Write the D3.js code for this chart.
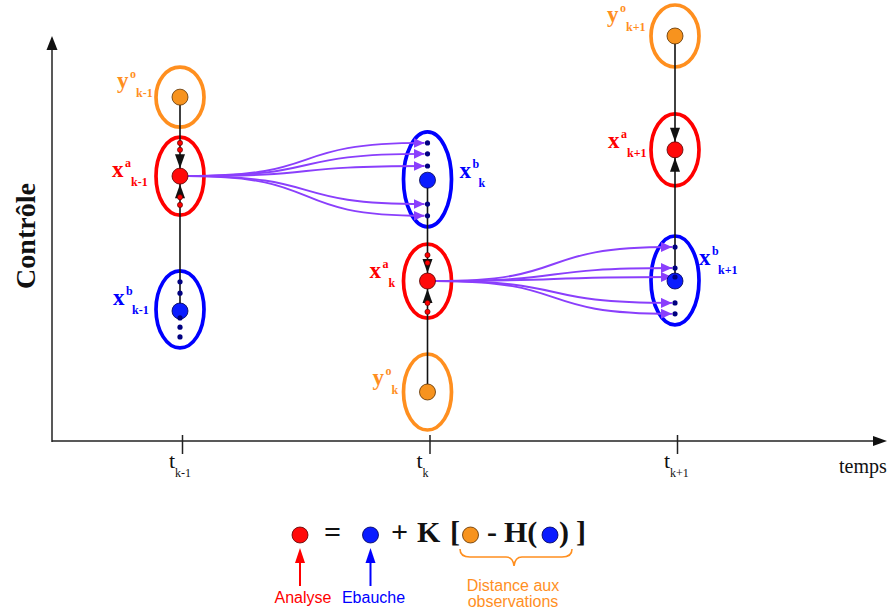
<!DOCTYPE html>
<html>
<head>
<meta charset="utf-8">
<script src="https://cdn.jsdelivr.net/npm/d3@7"></script>
<style>
  html, body { margin: 0; padding: 0; background: #fff; }
  svg { display: block; }
</style>
</head>
<body>
<svg id="chart" width="896" height="614"></svg>
<script>
// ---------------- DATA ----------------
const times = [0, 1, 2];
const tickLabels = ["k-1", "k", "k+1"];
const obsValues = [8.49, 1.21, 10.0];          // y^o
const analysisValues = [6.54, 3.95, 7.19];     // x^a
const backgroundValues = [3.21, 6.44, 3.95];   // x^b
const backgroundMembers = [
  [3.93, 3.65, 3.04, 2.81, 2.57],
  [7.36, 7.09, 6.79, 5.85, 5.56],
  [4.79, 4.27, 4.05, 3.41, 3.14]
];
const incrementMarks = [
  [7.36, 7.19, 6.02, 5.83],
  [4.59, 4.40, 3.41, 3.19],
  []
];
const obsSubs = ["k-1", "k", "k+1"];
const axisTitleY = "Contrôle";
const axisTitleX = "temps";
const legendLabels = ["Analyse", "Ebauche"];
const braceLabel = ["Distance aux", "observations"];

// ---------------- STYLE ----------------
const C = {
  orange: "#ff8f1f", orangeFill: "#f7931e",
  red: "#ff0000", redFill: "#ff0a0a",
  blue: "#0000ff", blueFill: "#0a1cff",
  navy: "#000080", purple: "#8a3ffc", black: "#111"
};
const serif = "'Liberation Serif', 'Times New Roman', serif";
const sans = "'Liberation Sans', Arial, sans-serif";
const ellipseRx = 24;
const obsRy = [30, 38, 31];
const anRy = [39, 37, 36];
const dotR = 8;

const svg = d3.select("#chart");
const x = d3.scaleLinear().domain([0, 2]).range([180, 675]);
const y = d3.scaleLinear().domain([0, 10]).range([441, 36]);

// defs
const defs = svg.append("defs");
defs.append("marker").attr("id", "purpleHead")
  .attr("markerUnits", "userSpaceOnUse").attr("markerWidth", 12).attr("markerHeight", 11)
  .attr("refX", 11).attr("refY", 5).attr("orient", "auto")
  .append("path").attr("d", "M0,0 L11,5 L0,10 Z").attr("fill", C.purple);

// ---------------- AXES ----------------
const axisY0 = 441, axisX0 = 52;
svg.append("line").attr("x1", axisX0).attr("y1", axisY0 + 1).attr("x2", axisX0).attr("y2", 48)
  .attr("stroke", "#222").attr("stroke-width", 1.5);
svg.append("path").attr("d", `M${axisX0},36 L${axisX0 + 5.5},50 L${axisX0 - 5.5},50 Z`).attr("fill", "#111");
svg.append("line").attr("x1", axisX0).attr("y1", axisY0).attr("x2", 874).attr("y2", axisY0)
  .attr("stroke", "#222").attr("stroke-width", 1.5);
svg.append("path").attr("d", `M887,${axisY0} L873,${axisY0 - 5} L873,${axisY0 + 5} Z`).attr("fill", "#111");

const xAxis = d3.axisBottom(x).tickValues(times).tickSize(13).tickFormat("");
const gAx = svg.append("g").attr("transform", `translate(2,${axisY0})`).call(xAxis);
gAx.select(".domain").remove();
gAx.selectAll(".tick line").attr("y1", -6).attr("stroke", "#222").attr("stroke-width", 1.5);

times.forEach((t, i) => {
  const tx = x(t) + 2;
  svg.append("text").attr("x", tx - 13).attr("y", 468).attr("font-family", serif)
    .attr("font-size", 22).attr("fill", "#111").text("t");
  svg.append("text").attr("x", tx - 7).attr("y", 477).attr("font-family", serif)
    .attr("font-size", 12).attr("fill", "#111").text(tickLabels[i]);
});
svg.append("text").attr("x", 839).attr("y", 473).attr("font-family", serif)
  .attr("font-size", 20).attr("fill", "#111").text(axisTitleX);
svg.append("text").attr("transform", "translate(35,236) rotate(-90)")
  .attr("text-anchor", "middle").attr("font-family", serif).attr("font-weight", "bold")
  .attr("font-size", 28).attr("fill", "#111").text(axisTitleY);

// ---------------- ELLIPSES ----------------
times.forEach((t, i) => {
  const cx = x(t);
  svg.append("ellipse").attr("cx", cx).attr("cy", y(obsValues[i])).attr("rx", ellipseRx).attr("ry", obsRy[i])
    .attr("fill", "none").attr("stroke", C.orange).attr("stroke-width", 3.7);
  svg.append("ellipse").attr("cx", cx).attr("cy", y(analysisValues[i])).attr("rx", ellipseRx).attr("ry", anRy[i])
    .attr("fill", "none").attr("stroke", C.red).attr("stroke-width", 3.7);
  const ext = d3.extent(backgroundMembers[i].concat([backgroundValues[i]]).map(y));
  svg.append("ellipse").attr("cx", cx).attr("cy", (ext[0] + ext[1]) / 2).attr("rx", ellipseRx)
    .attr("ry", (ext[1] - ext[0]) / 2 + 11)
    .attr("fill", "none").attr("stroke", C.blue).attr("stroke-width", 3.7);
});

// ---------------- BLACK LINES ----------------
times.forEach((t, i) => {
  const cx = x(t);
  [obsValues[i], backgroundValues[i]].forEach(v => {
    svg.append("line").attr("x1", cx).attr("y1", y(v)).attr("x2", cx).attr("y2", y(analysisValues[i]))
      .attr("stroke", C.black).attr("stroke-width", 1.6);
  });
});

// ---------------- PURPLE FORECAST CURVES ----------------
const link = (x0, y0, x1, y1) => {
  const dx = x1 - x0;
  return `M${x0},${y0} C${x0 + 0.6 * dx},${y0} ${x0 + 0.4 * dx},${y1} ${x1},${y1}`;
};
times.slice(0, 2).forEach((t, i) => {
  const x0 = x(t) + dotR, y0 = y(analysisValues[i]);
  backgroundMembers[i + 1].forEach(m => {
    svg.append("path").attr("d", link(x0, y0, x(times[i + 1]) - 3, y(m)))
      .attr("fill", "none").attr("stroke", C.purple).attr("stroke-width", 1.9)
      .attr("marker-end", "url(#purpleHead)");
  });
});

// ---------------- DOTS ----------------
times.forEach((t, i) => {
  const cx = x(t);
  svg.append("circle").attr("cx", cx).attr("cy", y(obsValues[i])).attr("r", dotR)
    .attr("fill", C.orangeFill).attr("stroke", "#5a3000").attr("stroke-width", 0.8);
  svg.append("circle").attr("cx", cx).attr("cy", y(analysisValues[i])).attr("r", dotR)
    .attr("fill", C.redFill).attr("stroke", "#500").attr("stroke-width", 0.8);
  svg.append("circle").attr("cx", cx).attr("cy", y(backgroundValues[i])).attr("r", dotR)
    .attr("fill", C.blueFill).attr("stroke", "#000050").attr("stroke-width", 0.8);
  backgroundMembers[i].forEach(m => {
    svg.append("circle").attr("cx", cx).attr("cy", y(m)).attr("r", 2.6).attr("fill", C.navy);
  });
  // arrowheads pointing to analysis dot
  const ay = y(analysisValues[i]);
  [obsValues[i], backgroundValues[i]].forEach(v => {
    const dir = y(v) < ay ? -1 : 1;  // side from which the line arrives
    const tip = ay + dir * dotR, base = tip + dir * 14;
    svg.append("path").attr("d", `M${cx},${tip} L${cx - 5},${base} L${cx + 5},${base} Z`)
      .attr("fill", C.black);
  });
  incrementMarks[i].forEach(m => {
    svg.append("circle").attr("cx", cx).attr("cy", y(m)).attr("r", 2.6)
      .attr("fill", C.red).attr("stroke", "#400").attr("stroke-width", 0.6);
  });
});

// ---------------- NODE LABELS ----------------
const labelLayout = {
  obs: [[-63, -9], [-55, -7], [-68, -14]],
  an: [[-68, 1], [-58, -3], [-67, -2]],
  bg: [[-67, -6], [32, -2], [24, -16]]
};
function nodeLabel(cx, cy, off, main, sup, sub, color) {
  const lx = cx + off[0], ly = cy + off[1];
  const g = svg.append("g").attr("fill", color).attr("font-family", serif).attr("font-weight", "bold");
  g.append("text").attr("x", lx).attr("y", ly).attr("font-size", 23).text(main);
  g.append("text").attr("x", lx + 13).attr("y", ly - 10).attr("font-size", 12).text(sup);
  g.append("text").attr("x", lx + 19).attr("y", ly + 9).attr("font-size", 12).text(sub);
}
times.forEach((t, i) => {
  const cx = x(t);
  nodeLabel(cx, y(obsValues[i]), labelLayout.obs[i], "y", "o", obsSubs[i], C.orange);
  nodeLabel(cx, y(analysisValues[i]), labelLayout.an[i], "x", "a", obsSubs[i], C.red);
  nodeLabel(cx, y(backgroundValues[i]), labelLayout.bg[i], "x", "b", obsSubs[i], C.blue);
});

// ---------------- EQUATION ----------------
const eqY = 535, eqBase = 542;
const eq = svg.append("g");
const eqText = (tx, s) => eq.append("text").attr("x", tx).attr("y", eqBase).attr("font-family", serif)
  .attr("font-weight", "bold").attr("font-size", 30).attr("fill", "#111").text(s);
const eqDot = (cx, fill, stroke) => eq.append("circle").attr("cx", cx).attr("cy", eqY).attr("r", dotR)
  .attr("fill", fill).attr("stroke", stroke).attr("stroke-width", 0.8);
eqDot(300, C.redFill, "#500");
eqText(324, "=");
eqDot(370.5, C.blueFill, "#000050");
eqText(391, "+");
eqText(417, "K");
eqText(450, "[");
eqDot(470.5, C.orangeFill, "#5a3000");
eqText(487, "-");
eqText(504, "H(");
eqDot(550, C.blueFill, "#000050");
eqText(559, ")");
eqText(576, "]");

// legend arrows
[[300, C.red, legendLabels[0]], [370.5, C.blue, legendLabels[1]]].forEach(([ax, col, lab]) => {
  eq.append("line").attr("x1", ax).attr("y1", 586).attr("x2", ax).attr("y2", 560)
    .attr("stroke", col).attr("stroke-width", 2);
  eq.append("path").attr("d", `M${ax},548 L${ax - 5},563 L${ax + 5},563 Z`).attr("fill", col);
  eq.append("text").attr("x", ax + 3).attr("y", 603).attr("text-anchor", "middle")
    .attr("font-family", sans).attr("font-size", 16).attr("fill", col).text(lab);
});
// brace
eq.append("path")
  .attr("d", "M460,549 Q460,557 470,557 L506,557 Q513,557 514,566 Q515,557 522,557 L562,557 Q572,557 572,549")
  .attr("fill", "none").attr("stroke", C.orange).attr("stroke-width", 1.6);
braceLabel.forEach((s, j) => {
  eq.append("text").attr("x", 513).attr("y", 591 + j * 16).attr("text-anchor", "middle")
    .attr("font-family", sans).attr("font-size", 16).attr("fill", C.orange).text(s);
});
</script>
</body>
</html>
